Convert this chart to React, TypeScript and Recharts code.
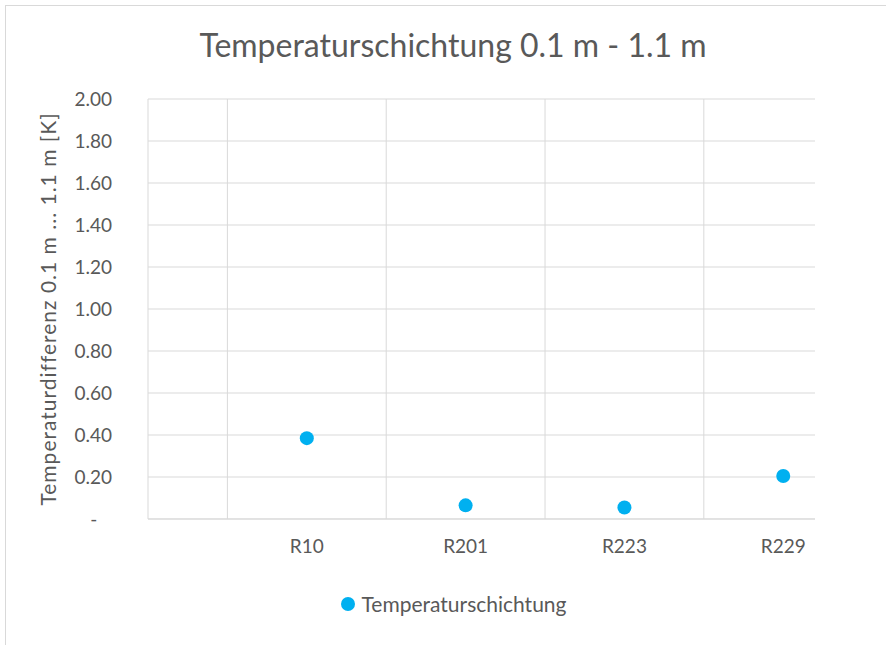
import { ScatterChart, Scatter, XAxis, YAxis, CartesianGrid, ReferenceLine, Legend, Label } from 'recharts';

const rooms = ['R10', 'R201', 'R223', 'R229'];
const tempDiff = [0.385, 0.065, 0.055, 0.205];
const yTicks = [0, 0.2, 0.4, 0.6, 0.8, 1.0, 1.2, 1.4, 1.6, 1.8, 2.0];

const TEXT = '#595959';
const GRID = '#d9d9d9';
const BLUE = '#00B0F0';
const FONT = 'Lato, "Noto Sans", sans-serif';

const data = rooms.map((room, i) => ({ x: i + 1, y: tempDiff[i], room }));
const boundaries = rooms.map((_, i) => i + 0.5);

const Dot = (p: any) => <circle cx={p.cx} cy={p.cy} r={7} fill={BLUE} />;

const LegendContent = () => (
  <div style={{ display: 'flex', justifyContent: 'center', alignItems: 'center', fontFamily: FONT, fontSize: 21, color: TEXT }}>
    <span style={{ width: 14, height: 14, borderRadius: '50%', background: BLUE, display: 'inline-block', marginRight: 6 }} />
    <span>Temperaturschichtung</span>
  </div>
);

export default function App() {
  return (
    <div style={{ position: 'absolute', left: 0, top: 0, width: 886, height: 645, background: '#fff', overflow: 'hidden' }}>
      <div style={{ position: 'absolute', left: 5, top: 5, width: 900, height: 700, borderTop: `1px solid ${GRID}`, borderLeft: `1px solid ${GRID}` }} />
      <div style={{ position: 'absolute', left: 0, top: 27, width: 906, textAlign: 'center', fontFamily: FONT, fontSize: 32, color: TEXT, lineHeight: '36px' }}>
        Temperaturschichtung 0.1 m - 1.1 m
      </div>
      <ScatterChart width={886} height={645} margin={{ top: 99, right: 71, bottom: 66, left: 88 }} style={{ position: 'absolute', left: 0, top: 0 }}>
        <CartesianGrid vertical={false} stroke={GRID} />
        {boundaries.map(b => (
          <ReferenceLine key={b} x={b} stroke={GRID} />
        ))}
        <XAxis
          type="number"
          dataKey="x"
          domain={[0, 4.2]}
          ticks={data.map(d => d.x)}
          tickFormatter={(v: number) => rooms[v - 1] ?? ''}
          allowDataOverflow
          height={60}
          axisLine={{ stroke: GRID }}
          tickLine={false}
          tickSize={0}
          tickMargin={21}
          tick={{ fill: TEXT, fontSize: 19, fontFamily: FONT }}
        />
        <YAxis
          type="number"
          dataKey="y"
          domain={[0, 2]}
          ticks={yTicks}
          tickFormatter={(v: number) => (v === 0 ? '-\u00a0\u00a0\u00a0' : v.toFixed(2))}
          width={60}
          axisLine={{ stroke: GRID }}
          tickLine={false}
          tickSize={0}
          tickMargin={36}
          tick={{ fill: TEXT, fontSize: 19, fontFamily: FONT }}
        >
          <Label
            content={(props: any) => {
              const vb = props.viewBox || { y: 99, height: 420 };
              const cy = vb.y + vb.height / 2;
              return (
                <text
                  x={47}
                  y={cy}
                  transform={`rotate(-90 47 ${cy})`}
                  textAnchor="middle"
                  dominantBaseline="central"
                  fill={TEXT}
                  fontSize={21}
                  letterSpacing={1}
                  fontFamily={FONT}
                >
                  Temperaturdifferenz 0.1 m ... 1.1 m [K]
                </text>
              );
            }}
          />
        </YAxis>
        <Legend
          layout="horizontal"
          verticalAlign="middle"
          align="center"
          wrapperStyle={{ top: 591, left: 0, width: 908 }}
          content={LegendContent}
        />
        <Scatter name="Temperaturschichtung" data={data} fill={BLUE} shape={Dot} isAnimationActive={false} />
      </ScatterChart>
    </div>
  );
}
